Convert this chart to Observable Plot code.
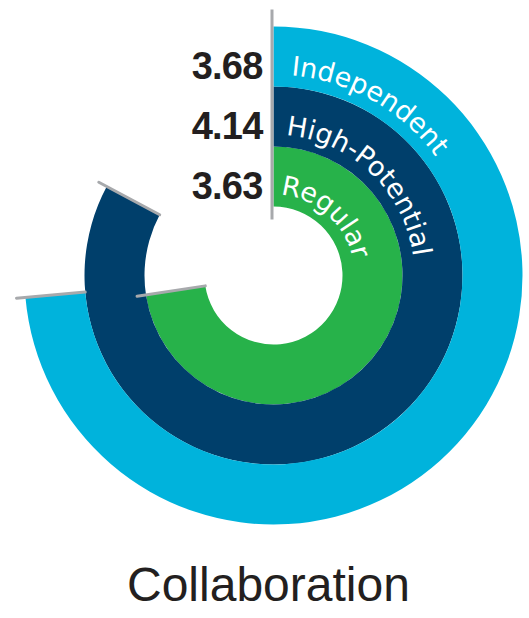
<!DOCTYPE html>
<html>
<head>
<meta charset="utf-8">
<script src="https://cdn.jsdelivr.net/npm/d3@7"></script>
<script src="https://cdn.jsdelivr.net/npm/@observablehq/plot@0.6"></script>
<style>
  body { margin: 0; background: #fff; }
  #chart { width: 529px; }
  #title { width: 529px; font-family: "Liberation Sans", Arial, sans-serif; font-size: 48px; line-height: 1; color: #231f20; margin-top: 31px; }
  #title span { display: inline-block; margin-left: 127px; }
</style>
</head>
<body>
<div id="chart"></div>
<div id="title"><span></span></div>
<script>
// ---- data ----
const names = ["Regular", "High-Potential", "Independent"];
const values = [3.63, 4.14, 3.68];
const colors = ["#27b24a", "#003f6b", "#00b3dc"];
const scaleMax = 5;
const valueLabels = ["3.63", "4.14", "3.68"];
const chartTitle = "Collaboration";

const data = names.map((name, i) => ({name, value: values[i], label: valueLabels[i]}));

const W = 529, H = 530;
const marginLeft = 18, marginRight = 0, marginTop = 21, marginBottom = 0;
const gray = "#a7a9ac";

function radialRings(index, scales, channels, dims) {
  const cx = (dims.marginLeft + dims.width - dims.marginRight) / 2;
  const cy = (dims.marginTop + dims.height - dims.marginBottom) / 2;
  const ang = scales.x, rad = scales.y, col = scales.color;
  const bw = rad.bandwidth();
  const [r0, r1] = d3.extent(rad.range());
  const pt = (a, r) => [cx + r * Math.sin(a), cy - r * Math.cos(a)];
  const svg = d3.create("svg:g");
  const arc = d3.arc();
  // rings
  svg.selectAll("path.ring").data(data).join("path")
    .attr("class", "ring")
    .attr("transform", `translate(${cx},${cy})`)
    .attr("fill", d => col(d.name))
    .attr("d", d => arc({innerRadius: rad(d.name), outerRadius: rad(d.name) + bw, startAngle: ang(0), endAngle: ang(d.value)}));
  // start line
  const s0 = pt(0, r0 - 12), s1 = pt(0, r1 + 16);
  svg.append("line")
    .attr("x1", s0[0] - 1.5).attr("y1", s0[1]).attr("x2", s1[0] - 1.5).attr("y2", s1[1])
    .attr("stroke", gray).attr("stroke-width", 3);
  // end lines
  svg.selectAll("line.end").data(data).join("line")
    .attr("class", "end")
    .each(function(d) {
      const a = ang(d.value);
      const p0 = pt(a, rad(d.name)), p1 = pt(a, rad(d.name) + bw + 9);
      d3.select(this).attr("x1", p0[0]).attr("y1", p0[1]).attr("x2", p1[0]).attr("y2", p1[1]);
    })
    .attr("stroke", gray).attr("stroke-width", 3).attr("stroke-linecap", "round");
  // value labels
  svg.selectAll("text.val").data(data).join("text")
    .attr("class", "val")
    .attr("x", cx - 11)
    .attr("y", d => cy - (rad(d.name) + bw / 2 - 9))
    .attr("text-anchor", "end")
    .attr("dominant-baseline", "central")
    .attr("font-family", "'Liberation Sans', Arial, sans-serif")
    .attr("font-weight", "bold")
    .attr("font-size", 38)
    .attr("letter-spacing", -0.8)
    .attr("fill", "#231f20")
    .text(d => d.label);
  // curved ring labels
  const defs = svg.append("defs");
  data.forEach((d, i) => {
    const rb = rad(d.name) + 12;
    const id = "lab-path-" + i;
    defs.append("path").attr("id", id)
      .attr("d", `M${cx},${cy - rb} A${rb},${rb} 0 0 1 ${cx},${cy + rb}`);
    svg.append("text")
      .attr("font-family", "'DejaVu Sans', sans-serif")
      .attr("font-size", 27)
      .attr("fill", "#fff")
      .attr("text-anchor", "start")
      .append("textPath")
      .attr("href", "#" + id)
      .attr("startOffset", rb * 5 * Math.PI / 180)
      .text(d.name);
  });
  return svg.node();
}

const chart = Plot.plot({
  width: W, height: H,
  marginLeft, marginRight, marginTop, marginBottom,
  style: {background: "transparent", overflow: "visible"},
  x: {domain: [0, scaleMax], range: [0, 2 * Math.PI], axis: null},
  y: {type: "band", domain: names, range: [68, 250], padding: 0, axis: null},
  color: {domain: names, range: colors},
  marks: [
    Plot.dot(data, {x: "value", y: "name", fill: "name", r: 0}),
    radialRings
  ]
});
document.getElementById("chart").append(chart);
document.querySelector("#title span").textContent = chartTitle;
</script>
</body>
</html>
